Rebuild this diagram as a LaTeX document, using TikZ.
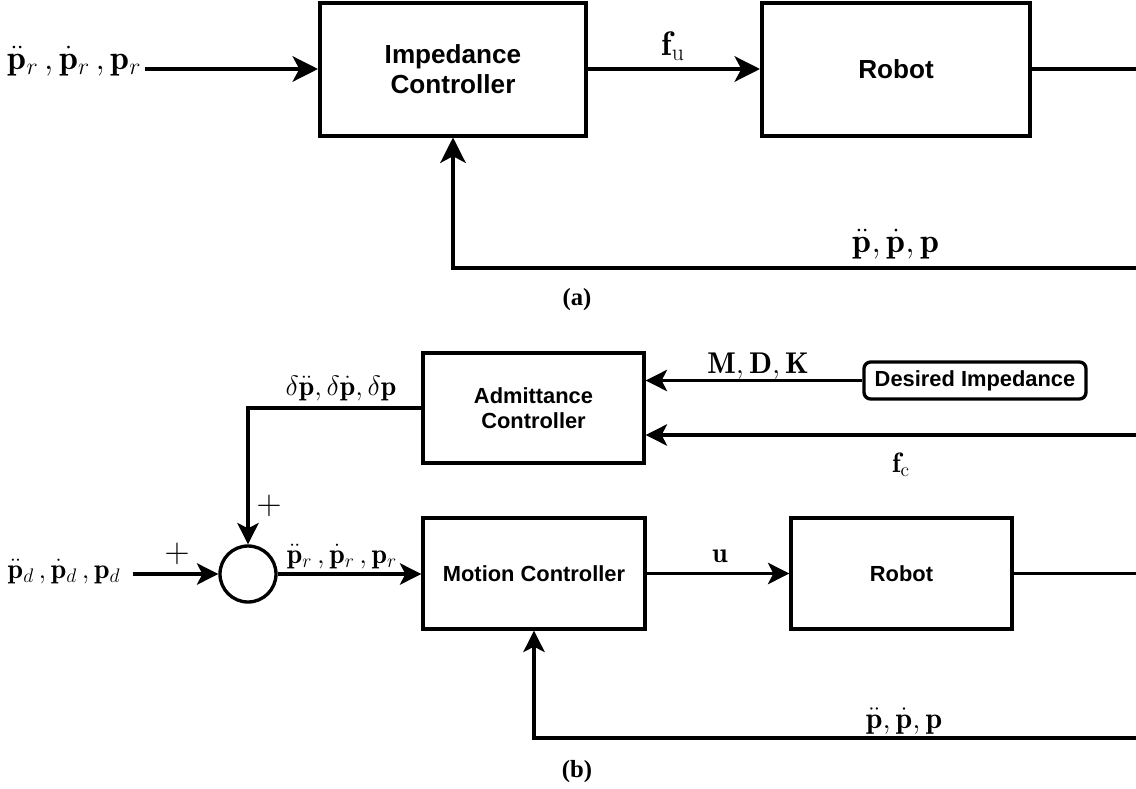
\documentclass[tikz,border=0pt]{standalone}
\usepackage{fix-cm}
\usepackage{fontspec}
\setsansfont{Liberation Sans}
\newfontfamily\captfont{Liberation Serif}
\usetikzlibrary{arrows.meta}
\begin{document}
\begin{tikzpicture}[x=7.5pt,y=7.5pt]
  \tikzstyle{every node}+=[inner sep=0pt]
  \tikzstyle{blka}=[draw=black, line width=3pt, align=center, font=\fontsize{19.6}{23}\selectfont\sffamily\bfseries]
  \tikzstyle{blkb}=[draw=black, line width=2.5pt, align=center, font=\fontsize{16.4}{19}\selectfont\sffamily\bfseries]
  \tikzstyle{mtha}=[anchor=base, font=\fontsize{25.5}{30}\selectfont]
  \tikzstyle{mthb}=[anchor=base, font=\fontsize{21}{25}\selectfont]
  \tikzstyle{plus}=[font=\fontsize{26}{30}\selectfont]
  \tikzstyle{lina}=[black, line width=3pt]
  \tikzstyle{linb}=[black, line width=2.5pt]
  \tikzstyle{arra}=[lina, -{Stealth[length=19pt, width=19pt, inset=5pt]}]
  \tikzstyle{arrb}=[linb, -{Stealth[length=16pt, width=16pt, inset=4pt]}]
  \tikzstyle{capt}=[font=\captfont\bfseries\fontsize{18.5}{21}\selectfont]
  \useasboundingbox (0,0) rectangle (113.6,-78.9);
  \node [blka, minimum width=199.5pt, minimum height=99.75pt] (imp) at (45.3,-6.9) {Impedance\\Controller};
  \node [blka, minimum width=201pt, minimum height=99.75pt] (roba) at (89.6,-6.9) {Robot};
  \node [mtha] (ina) at (7.45,-6.9) {$\ddot{\mathbf{p}}_r\,, \dot{\mathbf{p}}_r\,, \mathbf{p}_r$};
  \node [mtha] (fu) at (67.3,-5.5) {$\mathbf{f}_\mathrm{u}$};
  \node [mtha] (fbla) at (89.6,-25.2) {$\ddot{\mathbf{p}}, \dot{\mathbf{p}}, \mathbf{p}$};
  \node [capt] (capa) at (57.7,-30.0) {(a)};
  \coordinate (outa) at (113.6,-6.9);
  \coordinate (fba) at (113.6,-26.8);
  \draw [arra] (ina.east |- imp.west) ++(0.4,0) -- (imp.west);
  \draw [arra] (imp) -- (roba);
  \draw [lina] (roba.east) -- (outa);
  \draw [arra] (fba) -| (imp.south);
  \node [blkb, minimum width=165.75pt, minimum height=82.5pt] (adm) at (53.35,-40.8) {Admittance\\Controller};
  \node [blkb, rounded corners=5pt, minimum width=166.5pt, minimum height=27.75pt] (des) at (97.5,-38.05) {Desired Impedance};
  \node [blkb, circle, minimum size=42pt] (sum) at (24.8,-57.4) {};
  \node [blkb, minimum width=166.5pt, minimum height=83.25pt] (mot) at (53.4,-57.35) {Motion Controller};
  \node [blkb, minimum width=165.75pt, minimum height=83.25pt] (robb) at (90.15,-57.35) {Robot};
  \node [mthb, font=\fontsize{22.5}{27}\selectfont] (mdk) at (75.8,-37.3) {$\mathbf{M}, \mathbf{D}, \mathbf{K}$};
  \node [mthb] (fc) at (90.1,-47.2) {$\mathbf{f}_\mathrm{c}$};
  \node [mthb] (dlt) at (34.1,-39.5) {$\delta\ddot{\mathbf{p}}, \delta\dot{\mathbf{p}}, \delta\mathbf{p}$};
  \node [mthb] (inb) at (6.4,-57.8) {$\ddot{\mathbf{p}}_d\,, \dot{\mathbf{p}}_d\,, \mathbf{p}_d$};
  \node [mthb] (prb) at (34.2,-56.3) {$\ddot{\mathbf{p}}_r\,, \dot{\mathbf{p}}_r\,, \mathbf{p}_r$};
  \node [mthb] (ub) at (72.0,-56.2) {$\mathbf{u}$};
  \node [mthb, font=\fontsize{22.5}{27}\selectfont] (fblb) at (90.4,-72.8) {$\ddot{\mathbf{p}}, \dot{\mathbf{p}}, \mathbf{p}$};
  \node [plus] (plsa) at (26.9,-50.6) {$+$};
  \node [plus] (plsb) at (17.7,-55.4) {$+$};
  \node [capt] (capb) at (57.7,-77.2) {(b)};
  \coordinate (fcin) at (113.6,-43.5);
  \coordinate (outb) at (113.6,-57.35);
  \coordinate (fbb) at (113.6,-73.8);
  \draw [arrb] (des.west) -- (des.west -| adm.east);
  \draw [arrb] (fcin) -- (fcin -| adm.east);
  \draw [arrb] (adm.west) -| (sum.north);
  \draw [arrb] (inb.east |- sum.west) ++(1.2,0) -- (sum.west);
  \draw [arrb] (sum.east) -- (sum.east -| mot.west);
  \draw [arrb] (mot) -- (robb);
  \draw [linb] (robb.east) -- (outb);
  \draw [arrb] (fbb) -| (mot.south);
\end{tikzpicture}
\end{document}
